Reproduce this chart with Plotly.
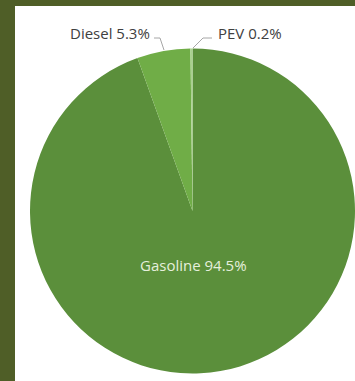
import plotly.graph_objects as go

labels = ["Gasoline", "Diesel", "PEV"]
values = [94.5, 5.3, 0.2]
colors = ["#5b8f3b", "#70ad47", "#a9d18e"]

W, H = 355, 381

def px(x):
    return x / W

def py(y):
    return 1 - y / H

fig = go.Figure()
fig.add_trace(go.Pie(
    labels=labels, values=values, sort=False, direction="clockwise", rotation=0,
    marker=dict(colors=colors, line=dict(width=0)),
    textinfo="none", hoverinfo="label+percent", showlegend=False,
    domain=dict(x=[px(30), 1], y=[py(374), py(48)]),
))

fam = "Open Sans, Liberation Sans, sans-serif"
ann_font = dict(family=fam, size=15, color="#404040")
fig.add_annotation(x=px(110), y=py(33), xref="paper", yref="paper", showarrow=False,
                   xanchor="center", yanchor="middle",
                   text=f"{labels[1]} {values[1]}%", font=ann_font)
fig.add_annotation(x=px(250), y=py(33), xref="paper", yref="paper", showarrow=False,
                   xanchor="center", yanchor="middle",
                   text=f"{labels[2]} {values[2]}%", font=ann_font)
fig.add_annotation(x=px(193), y=py(265), xref="paper", yref="paper", showarrow=False,
                   xanchor="center", yanchor="middle",
                   text=f"{labels[0]} {values[0]}%",
                   font=dict(family=fam, size=15, color="#e6efdd"))

shapes = [
    dict(type="rect", xref="paper", yref="paper", x0=px(15), x1=1.01, y0=-0.01, y1=py(6),
         fillcolor="white", line=dict(width=0), layer="below"),
    dict(type="path", xref="paper", yref="paper",
         path=f"M {px(154)},{py(38)} L {px(160)},{py(38)} L {px(164)},{py(50)}",
         line=dict(color="#a6a6a6", width=1)),
    dict(type="path", xref="paper", yref="paper",
         path=f"M {px(212)},{py(38)} L {px(203)},{py(38)} L {px(193)},{py(48)}",
         line=dict(color="#a6a6a6", width=1)),
]

fig.update_layout(width=W, height=H, margin=dict(l=0, r=0, t=0, b=0),
                  paper_bgcolor="#4f5e27", shapes=shapes)
fig.write_html("out.html")
